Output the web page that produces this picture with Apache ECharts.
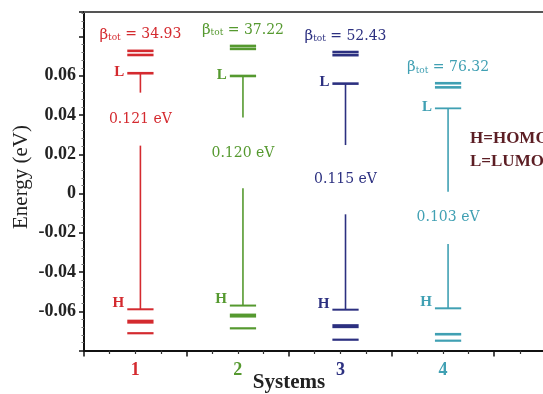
<!DOCTYPE html>
<html>
<head>
<meta charset="utf-8">
<script src="https://cdn.jsdelivr.net/npm/echarts@6/dist/echarts.min.js"></script>
<style>html,body{margin:0;padding:0;background:#fff}#c{width:543px;height:394px}</style>
</head>
<body>
<div id="c"></div>
<script>
// ---------------- data ----------------
const systems = [1, 2, 3, 4];
const xTickLabels = ['1', '2', '3', '4'];
const yTickLabels = ['-0.06', '-0.04', '-0.02', '0', '0.02', '0.04', '0.06'];
const betaTot = ['34.93', '37.22', '52.43', '76.32'];
const gapText = ['0.121 eV', '0.120 eV', '0.115 eV', '0.103 eV'];
const lumo = [0.0613, 0.0599, 0.0560, 0.0434];
const homo = [-0.0590, -0.0571, -0.0592, -0.0585];
const upperLevels = [[0.0727, 0.0706], [0.0752, 0.0737], [0.0721, 0.0705], [0.0562, 0.0541]];
const lowerLevels = [[-0.0653, -0.0712], [-0.0622, -0.0687], [-0.0676, -0.0745], [-0.0717, -0.0750]];
const connectorBreakTop = [0.0514, 0.0387, 0.0247, 0.0009];
const connectorBreakBottom = [0.0244, 0.0027, -0.0106, -0.0257];

// ---------------- style ----------------
const SERIF = '"Liberation Serif", "Times New Roman", serif';
const LABEL_FONT = '"DejaVu Serif", serif';
const COLORS = ['#d42a2f', '#55992f', '#2c3080', '#40a0b3'];
const LEGEND_COLOR = '#5c1e24';
const HALF = 0.128, SHIFT = 0.05;
const X_MIN = 0.5, X_MAX = 5.2, Y_MIN = -0.08, Y_MAX = 0.0925;

function levelWidth(i, role) {
  if (role === 'upper') return 2.6;
  if (role === 'L') return i === 3 ? 1.8 : 2.6;
  if (role === 'H') return 2;
  if (role === 'lower0') return i === 3 ? 2.6 : 4;
  return 2.2;
}

const levelRows = [];
systems.forEach((s, i) => {
  upperLevels[i].forEach(e => levelRows.push([s, e, i, 'upper']));
  levelRows.push([s, lumo[i], i, 'L']);
  levelRows.push([s, homo[i], i, 'H']);
  lowerLevels[i].forEach((e, k) => levelRows.push([s, e, i, 'lower' + k]));
});
const connectorRows = [];
systems.forEach((s, i) => {
  connectorRows.push([s, lumo[i], connectorBreakTop[i], i]);
  connectorRows.push([s, connectorBreakBottom[i], homo[i], i]);
});
const annoRows = systems.map((s, i) => [s, Math.max(...upperLevels[i]), i]);

const chart = echarts.init(document.getElementById('c'), null, {renderer: 'canvas'});
chart.setOption({
  backgroundColor: '#fff',
  animation: false,
  grid: {left: 84, right: -23, top: 12, bottom: 43.5, containLabel: false, outerBoundsMode: 'none'},
  xAxis: [
    {type: 'value', position: 'bottom', min: X_MIN, max: X_MAX, interval: 1,
      axisLine: {show: true, onZero: false, lineStyle: {color: '#111', width: 2}},
      axisTick: {show: true, inside: false, length: 6, lineStyle: {color: '#111', width: 1.5}},
      minorTick: {show: true, splitNumber: 4, length: 3.5, lineStyle: {color: '#333', width: 1.2}},
      axisLabel: {show: false}, splitLine: {show: false}, minorSplitLine: {show: false}},
    {type: 'value', position: 'bottom', min: X_MIN, max: X_MAX, interval: 0.5,
      axisLine: {show: false}, axisTick: {show: false}, splitLine: {show: false},
      axisLabel: {show: true, margin: 11, showMinLabel: true, showMaxLabel: true,
        formatter: v => {
          const n = Math.round(v);
          if (Math.abs(v - n) < 1e-6 && xTickLabels.includes(String(n))) return '{c' + n + '|' + xTickLabels[n - 1] + '}';
          return '';
        },
        rich: {
          c1: {color: COLORS[0], fontWeight: 'bold', fontSize: 18, fontFamily: SERIF},
          c2: {color: COLORS[1], fontWeight: 'bold', fontSize: 18, fontFamily: SERIF},
          c3: {color: COLORS[2], fontWeight: 'bold', fontSize: 18, fontFamily: SERIF},
          c4: {color: COLORS[3], fontWeight: 'bold', fontSize: 18, fontFamily: SERIF}
        }}},
    {type: 'value', position: 'top', min: X_MIN, max: X_MAX,
      axisLine: {show: true, lineStyle: {color: '#555', width: 2}},
      axisTick: {show: false}, axisLabel: {show: false}, splitLine: {show: false}}
  ],
  yAxis: [{
    type: 'value', position: 'left', min: Y_MIN, max: Y_MAX, interval: 0.02,
    axisLine: {show: true, onZero: false, lineStyle: {color: '#111', width: 2}},
    axisTick: {show: true, inside: false, length: 5, lineStyle: {color: '#111', width: 1.5}},
    minorTick: {show: true, splitNumber: 5, length: 2.5, lineStyle: {color: '#777', width: 1}},
    splitLine: {show: false}, minorSplitLine: {show: false},
    axisLabel: {show: true, margin: 8, color: '#222', fontWeight: 'bold', fontSize: 18, fontFamily: SERIF,
      formatter: v => {
        const t = Math.abs(v) < 1e-9 ? '0' : v.toFixed(2);
        return yTickLabels.includes(t) ? t : '';
      }}
  }],
  graphic: [
    {type: 'text', x: 21, y: 177, rotation: Math.PI / 2, silent: true,
      style: {text: 'Energy (eV)', font: '21px ' + SERIF, fill: '#222', align: 'center', verticalAlign: 'middle', textAlign: 'center', textVerticalAlign: 'middle'}},
    {type: 'text', x: 289, y: 383, silent: true,
      style: {text: 'Systems', font: 'bold 21px ' + SERIF, fill: '#222', align: 'center', verticalAlign: 'middle', textAlign: 'center', textVerticalAlign: 'middle'}},
    {type: 'text', x: 470, y: 139, silent: true,
      style: {text: 'H=HOMO', font: 'bold 17px ' + SERIF, fill: LEGEND_COLOR, align: 'left', verticalAlign: 'middle', textAlign: 'left', textVerticalAlign: 'middle'}},
    {type: 'text', x: 470, y: 162, silent: true,
      style: {text: 'L=LUMO', font: 'bold 17px ' + SERIF, fill: LEGEND_COLOR, align: 'left', verticalAlign: 'middle', textAlign: 'left', textVerticalAlign: 'middle'}}
  ],
  series: [
    {
      type: 'custom', name: 'levels', xAxisIndex: 0, yAxisIndex: 0, clip: false,
      encode: {x: 0, y: 1},
      data: levelRows.map(r => [r[0], r[1]]),
      renderItem: (params, api) => {
        const r = levelRows[params.dataIndex];
        const a = api.coord([r[0] - HALF + SHIFT, r[1]]);
        const b = api.coord([r[0] + HALF + SHIFT, r[1]]);
        const children = [{type: 'line', shape: {x1: a[0], y1: a[1], x2: b[0], y2: b[1]},
          style: {stroke: COLORS[r[2]], lineWidth: levelWidth(r[2], r[3])}}];
        if (r[3] === 'L' || r[3] === 'H') {
          children.push({type: 'text', x: a[0] - 3, y: a[1] + (r[3] === 'H' ? -6 : -1),
            style: {text: r[3], fill: COLORS[r[2]], font: 'bold 15px ' + SERIF, align: 'right', verticalAlign: 'middle'}});
        }
        return {type: 'group', children: children};
      }
    },
    {
      type: 'custom', name: 'connectors', xAxisIndex: 0, yAxisIndex: 0, clip: false,
      encode: {x: 0, y: [1, 2]},
      data: connectorRows.map(r => [r[0], r[1], r[2]]),
      renderItem: (params, api) => {
        const r = connectorRows[params.dataIndex];
        const a = api.coord([r[0] + SHIFT, r[1]]);
        const b = api.coord([r[0] + SHIFT, r[2]]);
        return {type: 'line', shape: {x1: a[0], y1: a[1], x2: b[0], y2: b[1]},
          style: {stroke: COLORS[r[3]], lineWidth: 1.6}};
      }
    },
    {
      type: 'custom', name: 'annotations', xAxisIndex: 0, yAxisIndex: 0, clip: false,
      encode: {x: 0, y: 1},
      data: annoRows.map(r => [r[0], r[1]]),
      renderItem: (params, api) => {
        const r = annoRows[params.dataIndex];
        const i = r[2];
        const top = api.coord([r[0] + SHIFT, r[1]]);
        const g1 = api.coord([r[0] + SHIFT, connectorBreakTop[i]]);
        const g2 = api.coord([r[0] + SHIFT, connectorBreakBottom[i]]);
        return {type: 'group', children: [
          {type: 'text', x: top[0], y: top[1] - 16,
            style: {text: '{b|β}{s|tot}{n| = ' + betaTot[i] + '}', fill: COLORS[i], align: 'center', verticalAlign: 'middle',
              font: '14px ' + LABEL_FONT,
              rich: {
                b: {fontSize: 15, fontFamily: LABEL_FONT},
                s: {fontSize: 9, fontFamily: LABEL_FONT, verticalAlign: 'bottom'},
                n: {fontSize: 14, fontFamily: LABEL_FONT}
              }}},
          {type: 'text', x: g1[0], y: (g1[1] + g2[1]) / 2,
            style: {text: gapText[i], fill: COLORS[i], font: '14px ' + LABEL_FONT, align: 'center', verticalAlign: 'middle'}}
        ]};
      }
    }
  ]
});
</script>
</body>
</html>
